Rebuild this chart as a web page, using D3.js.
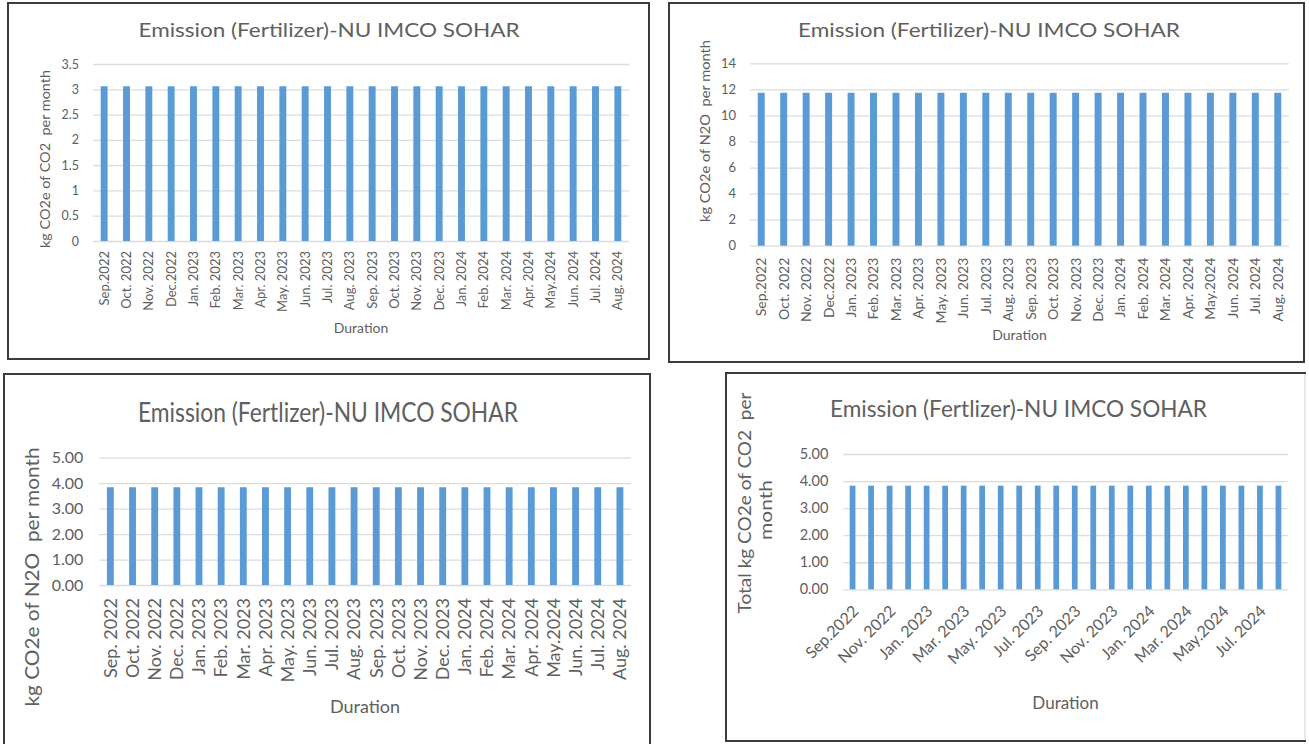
<!DOCTYPE html>
<html>
<head>
<meta charset="utf-8">
<script src="https://cdn.jsdelivr.net/npm/d3@7"></script>
<style>
  body { margin: 0; background: #fff; }
  svg { display: block; }
</style>
</head>
<body>
<svg id="chart" width="1309" height="744"></svg>
<script>
// ---- data ----
const monthsShort = ["Sep.2022", "Oct. 2022", "Nov. 2022", "Dec.2022", "Jan. 2023", "Feb. 2023",
  "Mar. 2023", "Apr. 2023", "May. 2023", "Jun. 2023", "Jul. 2023", "Aug. 2023",
  "Sep. 2023", "Oct. 2023", "Nov. 2023", "Dec. 2023", "Jan. 2024", "Feb. 2024",
  "Mar. 2024", "Apr. 2024", "May.2024", "Jun. 2024", "Jul. 2024", "Aug. 2024"];
const monthsSpaced = ["Sep. 2022", "Oct. 2022", "Nov. 2022", "Dec. 2022", "Jan. 2023", "Feb. 2023",
  "Mar. 2023", "Apr. 2023", "May. 2023", "Jun. 2023", "Jul. 2023", "Aug. 2023",
  "Sep. 2023", "Oct. 2023", "Nov. 2023", "Dec. 2023", "Jan. 2024", "Feb. 2024",
  "Mar. 2024", "Apr. 2024", "May.2024", "Jun. 2024", "Jul. 2024", "Aug. 2024"];

// kg CO2e of CO2 per month
const co2Monthly = [3.06, 3.06, 3.06, 3.06, 3.06, 3.06, 3.06, 3.06, 3.06, 3.06, 3.06, 3.06,
  3.06, 3.06, 3.06, 3.06, 3.06, 3.06, 3.06, 3.06, 3.06, 3.06, 3.06, 3.06];
// kg CO2e of N2O per month
const n2oMonthly = [11.74, 11.74, 11.74, 11.74, 11.74, 11.74, 11.74, 11.74, 11.74, 11.74, 11.74, 11.74,
  11.74, 11.74, 11.74, 11.74, 11.74, 11.74, 11.74, 11.74, 11.74, 11.74, 11.74, 11.74];
// kg CO2e of N2O per month (second sheet)
const n2oMonthlyB = [3.84, 3.84, 3.84, 3.84, 3.84, 3.84, 3.84, 3.84, 3.84, 3.84, 3.84, 3.84,
  3.84, 3.84, 3.84, 3.84, 3.84, 3.84, 3.84, 3.84, 3.84, 3.84, 3.84, 3.84];
// total kg CO2e per month
const totalMonthly = [3.83, 3.83, 3.83, 3.83, 3.83, 3.83, 3.83, 3.83, 3.83, 3.83, 3.83, 3.83,
  3.83, 3.83, 3.83, 3.83, 3.83, 3.83, 3.83, 3.83, 3.83, 3.83, 3.83, 3.83];

const ticksCO2 = [0, 0.5, 1, 1.5, 2, 2.5, 3, 3.5];
const ticksN2O = [0, 2, 4, 6, 8, 10, 12, 14];
const ticksTwoDec = [0, 1, 2, 3, 4, 5];

const titleFertilizer = "Emission (Fertilizer)-NU IMCO SOHAR";
const titleFertlizer = "Emission (Fertlizer)-NU IMCO SOHAR";
const xAxisTitle = "Duration";

// ---- styling ----
const FONT = "Lato, 'Liberation Sans', sans-serif";
const TEXT = "#606060";
const BAR = "#5B9BD5";
const GRID = "#DCDCDC";
const FRAME = "#3c3c3c";

const svg = d3.select("#chart");

const panels = [
  {
    labels: monthsShort, values: co2Monthly, ticks: ticksCO2, fmt: d3.format("~g"),
    frame: { x: 8, y: 3, w: 641, h: 356 },
    plot: { x0: 93, x1: 629, top: 64, base: 241 },
    tickRight: 79, tickFont: 12.5, labelFont: 13, labelGap: 10, rotate: -90, every: 1,
    title: { text: titleFertilizer, cx: 329, y: 37, size: 20, len: 381 },
    xTitle: { cx: 361, y: 333, size: 14 },
    yTitle: [{ text: "kg CO2e of CO2  per month", x: 45, cy: 159, size: 14, len: 178 }]
  },
  {
    labels: monthsShort, values: n2oMonthly, ticks: ticksN2O, fmt: d3.format("d"),
    frame: { x: 669, y: 3, w: 635, h: 359 },
    plot: { x0: 750, x1: 1289, top: 63.3, base: 245.7 },
    tickRight: 736, tickFont: 13, labelFont: 14, labelGap: 12, rotate: -90, every: 1,
    title: { text: titleFertilizer, cx: 989, y: 37, size: 20, len: 382 },
    xTitle: { cx: 1019.5, y: 340, size: 14 },
    yTitle: [{ text: "kg CO2e of N2O  per month", x: 705, cy: 131, size: 14, len: 182 }]
  },
  {
    labels: monthsSpaced, values: n2oMonthlyB, ticks: ticksTwoDec, fmt: d3.format(".2f"),
    frame: { x: 4, y: 374, w: 646, h: 420 },
    plot: { x0: 99.3, x1: 631, top: 457.7, base: 585 },
    tickRight: 83.3, tickFont: 16, labelFont: 18, labelGap: 13, rotate: -90, every: 1,
    title: { text: titleFertlizer, cx: 328, y: 421.7, size: 26, len: 380 },
    xTitle: { cx: 365, y: 713, size: 18 },
    yTitle: [{ text: "kg CO2e of N2O  per month", x: 32.5, cy: 577, size: 19, len: 259 }]
  },
  {
    labels: monthsShort, values: totalMonthly, ticks: ticksTwoDec, fmt: d3.format(".2f"),
    frame: { x: 726, y: 373, w: 579, h: 368 },
    plot: { x0: 843.3, x1: 1287.7, top: 454, base: 589.3 },
    tickRight: 828.3, tickFont: 14.5, labelFont: 16, labelGap: 19, rotate: -45, every: 2,
    title: { text: titleFertlizer, cx: 1018.5, y: 417, size: 24, len: 377 },
    xTitle: { cx: 1065.5, y: 709, size: 17 },
    yTitle: [
      { text: "Total kg CO2e of CO2  per", x: 745, cy: 503, size: 17, len: 221 },
      { text: "month", x: 766, cy: 510, size: 17, len: 60 }
    ],
    rightEdge: "#d0d0d0"
  }
];

function styleAxisGroup(sel, size) {
  sel.attr("font-family", FONT).attr("font-size", size).attr("fill", null);
  sel.select(".domain").remove();
  sel.selectAll(".tick line").remove();
  sel.selectAll("text").attr("fill", TEXT);
}

panels.forEach(p => {
  const g = svg.append("g");

  // frame
  g.append("rect")
    .attr("x", p.frame.x).attr("y", p.frame.y)
    .attr("width", p.frame.w).attr("height", p.frame.h)
    .attr("fill", "#fff").attr("stroke", FRAME).attr("stroke-width", 2);
  if (p.rightEdge) {
    g.append("line")
      .attr("x1", p.frame.x + p.frame.w).attr("x2", p.frame.x + p.frame.w)
      .attr("y1", p.frame.y + 1).attr("y2", p.frame.y + p.frame.h - 1)
      .attr("stroke", "#fff").attr("stroke-width", 2.5);
    g.append("line")
      .attr("x1", p.frame.x + p.frame.w).attr("x2", p.frame.x + p.frame.w)
      .attr("y1", p.frame.y + 1).attr("y2", p.frame.y + p.frame.h - 1)
      .attr("stroke", p.rightEdge).attr("stroke-width", 1);
  }

  const x = d3.scaleBand()
    .domain(p.labels)
    .range([p.plot.x0, p.plot.x1])
    .paddingInner(0.69)
    .paddingOuter(0.345);
  const y = d3.scaleLinear()
    .domain([0, d3.max(p.ticks)])
    .range([p.plot.base, p.plot.top]);

  // horizontal gridlines
  const grid = g.append("g")
    .attr("transform", `translate(${p.plot.x0},0)`)
    .call(d3.axisRight(y).tickValues(p.ticks).tickSize(p.plot.x1 - p.plot.x0).tickFormat(""));
  grid.select(".domain").remove();
  grid.selectAll(".tick line").attr("stroke", GRID).attr("stroke-width", 1.3);

  // bars
  g.append("g").selectAll("rect")
    .data(p.values)
    .join("rect")
    .attr("x", (d, i) => x(p.labels[i]))
    .attr("y", d => y(d))
    .attr("width", x.bandwidth())
    .attr("height", d => y(0) - y(d))
    .attr("fill", BAR);

  // value axis labels
  const ya = g.append("g")
    .attr("transform", `translate(${p.tickRight},0)`)
    .call(d3.axisLeft(y).tickValues(p.ticks).tickSize(0).tickPadding(0).tickFormat(p.fmt));
  styleAxisGroup(ya, p.tickFont);

  // category labels
  const shown = p.labels.filter((d, i) => i % p.every === 0);
  const xa = g.append("g")
    .attr("transform", `translate(0,${p.plot.base})`)
    .call(d3.axisBottom(x).tickValues(shown).tickSize(0));
  styleAxisGroup(xa, p.labelFont);
  xa.selectAll("text")
    .attr("x", 0).attr("y", 0)
    .attr("dy", "0.35em")
    .attr("text-anchor", "end")
    .attr("transform", p.rotate === -90
      ? `translate(0,${p.labelGap}) rotate(-90)`
      : `translate(3,${p.labelGap}) rotate(-45)`);

  // chart title
  g.append("text")
    .attr("x", p.title.cx).attr("y", p.title.y)
    .attr("text-anchor", "middle")
    .attr("font-family", FONT).attr("font-size", p.title.size)
    .attr("fill", TEXT)
    .attr("textLength", p.title.len).attr("lengthAdjust", "spacingAndGlyphs")
    .text(p.title.text);

  // category axis title
  g.append("text")
    .attr("x", p.xTitle.cx).attr("y", p.xTitle.y)
    .attr("text-anchor", "middle")
    .attr("font-family", FONT).attr("font-size", p.xTitle.size)
    .attr("fill", TEXT)
    .text(xAxisTitle);

  // value axis title
  p.yTitle.forEach(t => {
    g.append("text")
      .attr("transform", `translate(${t.x},${t.cy}) rotate(-90)`)
      .attr("dy", "0.35em")
      .attr("text-anchor", "middle")
      .attr("font-family", FONT).attr("font-size", t.size)
      .attr("fill", TEXT)
      .style("white-space", "pre")
      .attr("textLength", t.len).attr("lengthAdjust", "spacingAndGlyphs")
      .text(t.text);
  });
});
</script>
</body>
</html>
